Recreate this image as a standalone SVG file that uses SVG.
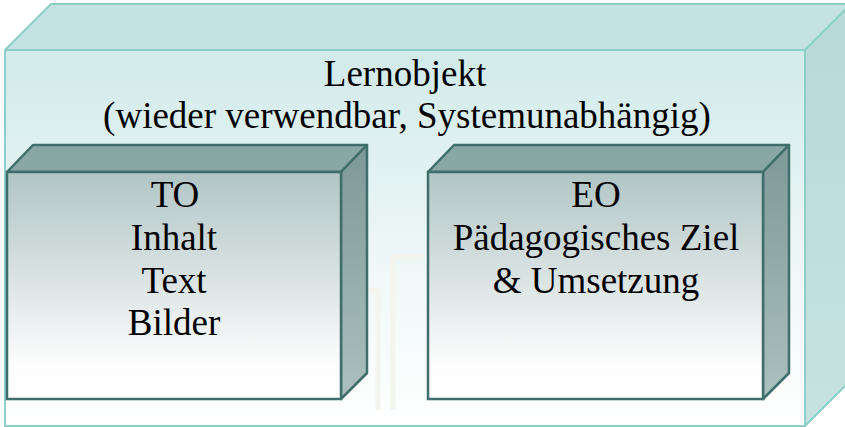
<svg xmlns="http://www.w3.org/2000/svg" width="845" height="427" viewBox="0 0 845 427">
  <defs>
    <linearGradient id="outerFront" x1="0" y1="0" x2="0" y2="1">
      <stop offset="0" stop-color="#d1eaea"/>
      <stop offset="0.55" stop-color="#eef7f7"/>
      <stop offset="1" stop-color="#ffffff"/>
    </linearGradient>
    <linearGradient id="outerSide" x1="0" y1="0" x2="0" y2="1">
      <stop offset="0" stop-color="#b7d9d8"/>
      <stop offset="1" stop-color="#c6e2e1"/>
    </linearGradient>
    <linearGradient id="innerFront" x1="0" y1="0" x2="0" y2="1">
      <stop offset="0" stop-color="#b1c5c5"/>
      <stop offset="0.5" stop-color="#dde5e5"/>
      <stop offset="0.85" stop-color="#fdfdfd"/>
      <stop offset="1" stop-color="#ffffff"/>
    </linearGradient>
    <linearGradient id="innerSide" x1="0" y1="0" x2="0" y2="1">
      <stop offset="0" stop-color="#7d9997"/>
      <stop offset="1" stop-color="#abc0bf"/>
    </linearGradient>
  </defs>
  <style>
    .outerTop { fill: #c4e3e2; stroke: #8ccfc8; stroke-width: 2; stroke-linejoin: round; }
    .outerSide { fill: url(#outerSide); stroke: #8ccfc8; stroke-width: 2; stroke-linejoin: round; }
    .outerFront { fill: url(#outerFront); stroke: #8ccfc8; stroke-width: 2; }
    .innerTop { fill: #88a7a5; stroke: #3f6e6b; stroke-width: 2.5; stroke-linejoin: round; }
    .innerSide { fill: url(#innerSide); stroke: #3f6e6b; stroke-width: 2.5; stroke-linejoin: round; }
    .innerFront { fill: url(#innerFront); stroke: #3f6e6b; stroke-width: 2.5; }
    .wm { fill: none; stroke: #f4f6ee; stroke-width: 5; }
  </style>

  <rect x="0" y="0" width="845" height="427" fill="#ffffff"/>

  <g font-family="Liberation Serif, DejaVu Serif, serif" font-size="37" fill="#000000" text-anchor="middle">
  <g id="lernobjekt">
    <polygon class="outerTop" points="5,50 51,4 851,4 805,50"/>
    <polygon class="outerSide" points="805,50 851,4 851,380 805,426"/>
    <rect class="outerFront" x="5" y="50" width="800" height="376"/>
    <path class="wm" d="M393,410 V257 H423 M378,410 V290 H315"/>
    <text x="405" y="86">Lernobjekt</text>
    <text x="407" y="128">(wieder verwendbar, Systemunabhängig)</text>
  </g>

  <g id="to">
    <polygon class="innerTop" points="7,172 33,145 367,145 341,172"/>
    <polygon class="innerSide" points="341,172 367,145 367,373 341,399"/>
    <rect class="innerFront" x="7" y="172" width="334" height="227"/>
    <text x="175" y="207">TO</text>
    <text x="174" y="250">Inhalt</text>
    <text x="174" y="293">Text</text>
    <text x="174" y="335">Bilder</text>
  </g>

  <g id="eo">
    <polygon class="innerTop" points="428,172 454,145 789,145 763,172"/>
    <polygon class="innerSide" points="763,172 789,145 789,373 763,399"/>
    <rect class="innerFront" x="428" y="172" width="335" height="227"/>
    <text x="596" y="207">EO</text>
    <text x="596" y="250">Pädagogisches Ziel</text>
    <text x="596" y="293">&amp; Umsetzung</text>
  </g>
  </g>

  <g id="connectors"/>
</svg>
